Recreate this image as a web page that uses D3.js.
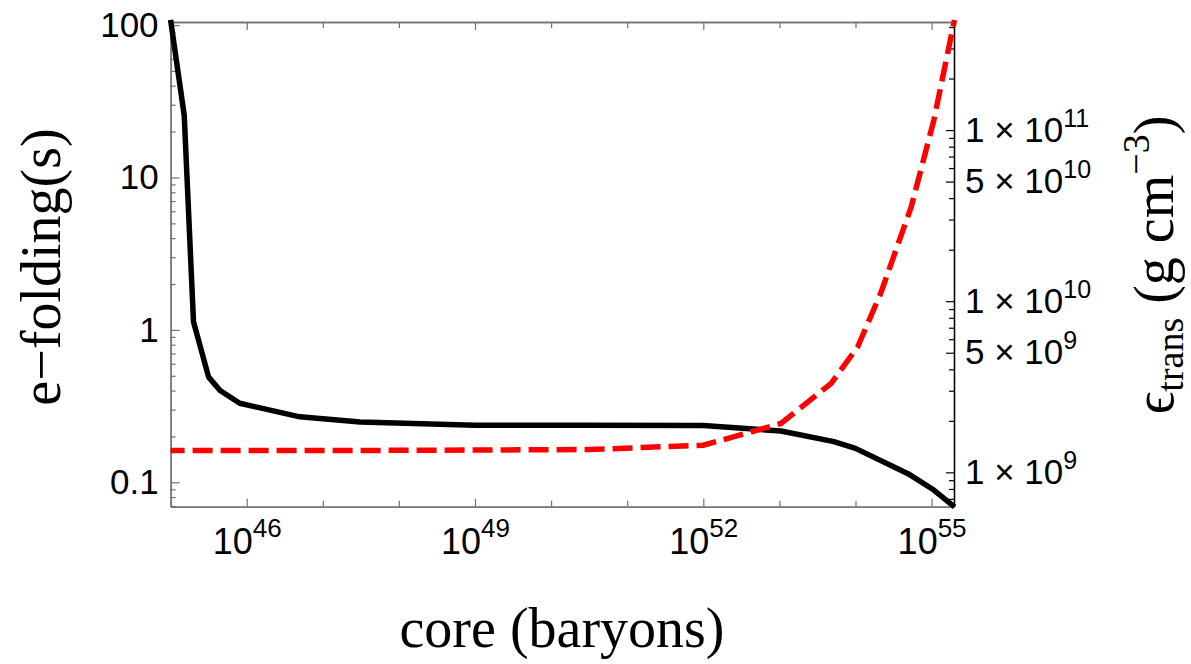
<!DOCTYPE html>
<html>
<head>
<meta charset="utf-8">
<script src="https://cdn.jsdelivr.net/npm/d3@7"></script>
<style>
  body { margin: 0; background: #fff; }
  svg { display: block; }
</style>
</head>
<body>
<svg id="chart" width="1191" height="664"></svg>
<script>
// e-folding time (left axis) vs core size
var foldCore = [1e45, 1.51e45, 2.0e45, 3.16e45, 4.47e45, 8.1e45, 5.0e46, 3.1e47, 1e49, 2.5e50,
                1e52, 1.05e53, 5.2e53, 1e54, 4.9e54, 1.07e55, 2e55];
var foldTime = [108, 25.6, 1.13, 0.49, 0.40, 0.33, 0.269, 0.249, 0.237, 0.237,
                0.236, 0.217, 0.185, 0.167, 0.114, 0.089, 0.069];

// transition density (right axis) vs core size
var transCore = [1e45, 1e47, 1e49, 3.2e50, 1e52, 1.05e53, 4.8e53, 1.07e54, 2.14e54, 5.4e54, 1.07e55, 2e55];
var transDens = [1.34e9, 1.34e9, 1.35e9, 1.36e9, 1.44e9, 1.93e9, 3.31e9, 5.42e9, 1.11e10, 3.56e10, 1.14e11, 4.4e11];

// tick labels
var leftTicks = [0.1, 1, 10, 100];
var rightTicks = [1e9, 5e9, 1e10, 5e10, 1e11];
var bottomExp = [46, 49, 52, 55];
var bottomAllExp = [46, 47, 48, 49, 50, 51, 52, 53, 54, 55];

var x0 = 170.6, x1 = 954, y0 = 22, y1 = 506.7;
var grey = "#707070";
var sans = "'Liberation Sans', Arial, sans-serif";
var serif = "'Liberation Serif', 'Times New Roman', serif";
var noLabel = function(){ return ""; };

var svg = d3.select("#chart");

var x = d3.scaleLog().domain([1e45, 1.97e55]).range([x0, x1]);
var yL = d3.scaleLog().domain([0.0692, 104.7]).range([y1, y0]);
var yR = d3.scaleLog().domain([6.3e8, 4.28e11]).range([y1, y0]);

function minors(scale, skip){ // m x 10^k inside the domain, not labelled
  var d = scale.domain(), out = [];
  for(var k = Math.floor(Math.log10(d[0])); k <= Math.ceil(Math.log10(d[1])); k++){
    for(var m = 1; m <= 9; m++){
      var v = m * Math.pow(10, k);
      if(v >= d[0] && v <= d[1] && skip.indexOf(v) < 0) out.push(v);
    }
  }
  return out;
}

function style(g, col){
  g.selectAll(".domain").attr("stroke", col).attr("stroke-width", 1.3);
  g.selectAll(".tick line").attr("stroke", col).attr("stroke-width", 1.2);
  g.selectAll(".tick text").attr("fill", "#000").attr("font-family", sans).attr("font-size", 35);
}

// left axis
var gl = svg.append("g").attr("transform", "translate(" + x0 + ",0)");
gl.call(d3.axisLeft(yL).tickValues(minors(yL, leftTicks)).tickSize(-5).tickSizeOuter(0).tickFormat(noLabel));
var glM = gl.append("g").call(d3.axisLeft(yL).tickValues(leftTicks).tickSize(-9).tickSizeOuter(0)
  .tickPadding(12).tickFormat(d3.format("~g")));
style(gl, grey);

// right axis
var gr = svg.append("g").attr("transform", "translate(" + x1 + ",0)");
gr.call(d3.axisRight(yR).tickValues(minors(yR, rightTicks)).tickSize(-5).tickSizeOuter(0).tickFormat(noLabel));
var grM = gr.append("g").call(d3.axisRight(yR).tickValues(rightTicks).tickSize(-8).tickSizeOuter(0).tickPadding(11));
style(gr, "#000");
grM.selectAll(".tick text").each(function(d){
  var e = Math.floor(Math.log10(d) + 1e-9), m = Math.round(d / Math.pow(10, e));
  var t = d3.select(this).text(null);
  t.append("tspan").text(m + " \u00d7 10");
  t.append("tspan").attr("dy", -15).attr("font-size", 25).text(e);
});

// bottom axis
var xMajor = bottomExp.map(function(e){ return Math.pow(10, e); });
var xMinor = bottomAllExp.filter(function(e){ return bottomExp.indexOf(e) < 0; })
  .map(function(e){ return Math.pow(10, e); });
var gb = svg.append("g").attr("transform", "translate(0," + y1 + ")");
gb.call(d3.axisBottom(x).tickValues(xMinor).tickSize(-6).tickSizeOuter(0).tickFormat(noLabel));
var gbM = gb.append("g").call(d3.axisBottom(x).tickValues(xMajor).tickSize(-8).tickSizeOuter(0).tickPadding(22));
style(gb, grey);
gbM.selectAll(".tick text").attr("font-size", 36).each(function(d){
  var t = d3.select(this).text(null);
  t.append("tspan").text("10");
  t.append("tspan").attr("dy", -17).attr("font-size", 26).text(Math.round(Math.log10(d)));
});

// top axis (ticks only)
var gt = svg.append("g").attr("transform", "translate(0," + y0 + ")");
gt.call(d3.axisTop(x).tickValues(xMinor).tickSize(-6).tickSizeOuter(0).tickFormat(noLabel));
gt.append("g").call(d3.axisTop(x).tickValues(xMajor).tickSize(-8).tickSizeOuter(0).tickFormat(noLabel));
style(gt, grey);

// curves
var lineL = d3.line().x(function(d){ return x(d[0]); }).y(function(d){ return yL(d[1]); });
var lineR = d3.line().x(function(d){ return x(d[0]); }).y(function(d){ return yR(d[1]); });

svg.append("path")
  .datum(d3.zip(foldCore, foldTime))
  .attr("d", lineL)
  .attr("fill", "none").attr("stroke", "#000").attr("stroke-width", 5.5)
  .attr("stroke-linejoin", "round");

svg.append("path")
  .datum(d3.zip(transCore, transDens))
  .attr("d", lineR)
  .attr("fill", "none").attr("stroke", "#ff0000").attr("stroke-width", 5.5)
  .attr("stroke-dasharray", "20,8").attr("stroke-dashoffset", 6);

// axis titles
svg.append("text")
  .attr("x", 562).attr("y", 647)
  .attr("text-anchor", "middle").attr("font-family", serif).attr("font-size", 56)
  .text("core (baryons)");

svg.append("text")
  .attr("transform", "translate(60,267) rotate(-90)")
  .attr("text-anchor", "middle").attr("font-family", serif).attr("font-size", 56)
  .text("e\u2212folding(s)");

var rt = svg.append("text")
  .attr("transform", "translate(1173,265) rotate(-90)")
  .attr("text-anchor", "middle").attr("font-family", serif).attr("font-size", 56);
rt.append("tspan").text("\u03f5");
rt.append("tspan").attr("font-size", 38).attr("dy", 10).text("trans");
rt.append("tspan").attr("dy", -10).text(" (g cm");
rt.append("tspan").attr("font-size", 38).attr("dy", -24).text("\u22123");
rt.append("tspan").attr("dy", 24).text(")");
</script>
</body>
</html>
